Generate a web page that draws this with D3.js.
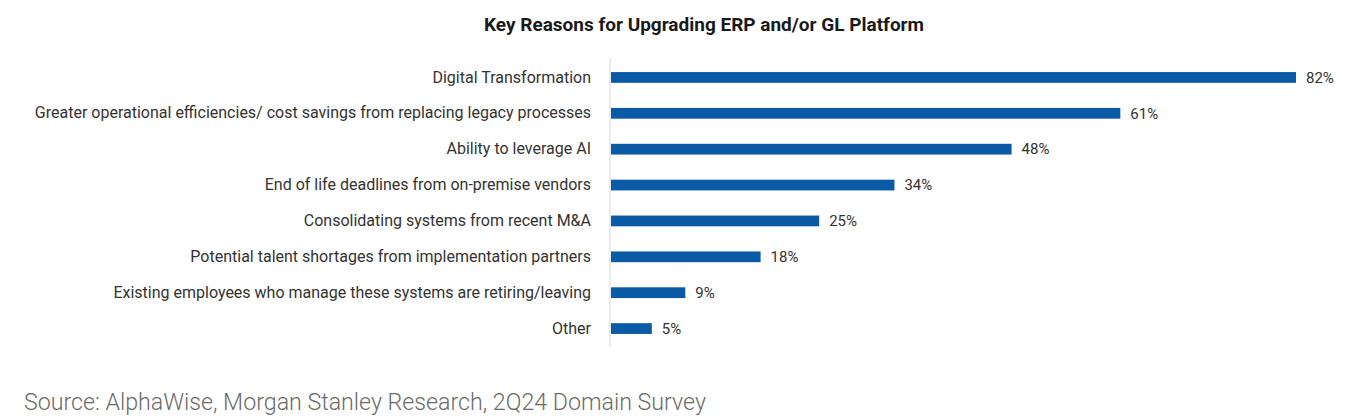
<!DOCTYPE html>
<html>
<head>
<meta charset="utf-8">
<script src="https://cdn.jsdelivr.net/npm/d3@7"></script>
<style>
  body { margin: 0; background: #fff; }
  svg { display: block; }
</style>
</head>
<body>
<div id="chart"></div>
<script>
var width = 1356;
var height = 420;

// data
var reasons = [
	"Digital Transformation",
	"Greater operational efficiencies/ cost savings from replacing legacy processes",
	"Ability to leverage AI",
	"End of life deadlines from on-premise vendors",
	"Consolidating systems from recent M&A",
	"Potential talent shortages from implementation partners",
	"Existing employees who manage these systems are retiring/leaving",
	"Other"
];
var shares = [82, 61, 48, 34, 25, 18, 9, 5];

var title = "Key Reasons for Upgrading ERP and/or GL Platform";
var source = "Source: AlphaWise, Morgan Stanley Research, 2Q24 Domain Survey";

var margin = { top: 58, right: 60, bottom: 75, left: 610 };

var svg = d3.select("#chart").append("svg")
	.attr("width", width)
	.attr("height", height);

var rows = reasons.map(function(r, i) { return { reason: r, share: shares[i] }; });

var xScale = d3.scaleLinear()
	.domain([0, 82])
	.range([margin.left, 1296]);

var yScale = d3.scaleBand()
	.domain(reasons)
	.range([margin.top + 1.5, height - margin.bottom + 1.5])
	.paddingInner(0.7)
	.paddingOuter(0.35);

// title
svg.append("text")
	.attr("x", 704)
	.attr("y", 31)
	.attr("text-anchor", "middle")
	.style("font-family", "'Roboto', sans-serif")
	.style("font-weight", "bold")
	.style("font-size", "19px")
	.style("fill", "#1a1a1a")
	.text(title);

// bars
svg.append("g")
	.selectAll("rect")
	.data(rows)
	.enter()
	.append("rect")
		.attr("x", xScale(0) + 1)
		.attr("y", function(d) { return yScale(d.reason); })
		.attr("width", function(d) { return xScale(d.share) - xScale(0) - 1; })
		.attr("height", yScale.bandwidth())
		.style("fill", "#0b5aa6");

// category axis (no ticks, just the baseline and labels)
var yAxis = d3.axisLeft(yScale).tickSize(0).tickPadding(19);
var axisG = svg.append("g")
	.attr("transform", "translate(" + xScale(0) + ",0)")
	.call(yAxis);
axisG.select(".domain")
	.attr("d", "M0," + margin.top + "V" + (height - margin.bottom + 2))
	.style("stroke", "#d9d9d9");
axisG.selectAll("text")
	.style("font-family", "'Roboto', sans-serif")
	.style("font-size", "16px")
	.style("fill", "#333");

// value labels
svg.append("g")
	.selectAll("text")
	.data(rows)
	.enter()
	.append("text")
		.attr("x", function(d) { return xScale(d.share) + 10; })
		.attr("y", function(d) { return yScale(d.reason) + yScale.bandwidth() / 2; })
		.attr("dy", "0.35em")
		.style("font-family", "'Roboto', sans-serif")
		.style("font-size", "15px")
		.style("fill", "#333")
		.text(function(d) { return d.share + "%"; });

// source line
svg.append("text")
	.attr("x", 24)
	.attr("y", 410)
	.style("font-family", "'Roboto', sans-serif")
	.style("font-weight", "300")
	.style("font-size", "23.2px")
	.style("fill", "#6b6b6b")
	.text(source);
</script>
</body>
</html>
